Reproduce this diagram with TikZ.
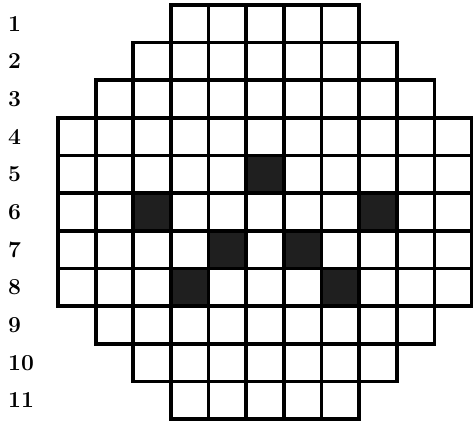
\documentclass[tikz,border=0pt]{standalone}
\usepackage{tikz}

\tikzset{
  cellgrid/.style={black, line width=2.8pt, line cap=rect},
  hole/.style={black!88},
  rowlabel/.style={font=\LARGE\bfseries, anchor=west, inner sep=0pt}
}

\begin{document}
\begin{tikzpicture}[x=1cm,y=1cm]
\useasboundingbox (-1.54,0.13) rectangle (11.02,-11.03);
% dark cells
\fill[hole] (5,-5) rectangle (6,-4);
\fill[hole] (2,-6) rectangle (3,-5);
\fill[hole] (8,-6) rectangle (9,-5);
\fill[hole] (4,-7) rectangle (5,-6);
\fill[hole] (6,-7) rectangle (7,-6);
\fill[hole] (3,-8) rectangle (4,-7);
\fill[hole] (7,-8) rectangle (8,-7);
% grid, row by row
\draw[cellgrid] (3,-1) grid[step=1] (8,0);
\draw[cellgrid] (2,-2) grid[step=1] (9,-1);
\draw[cellgrid] (1,-3) grid[step=1] (10,-2);
\draw[cellgrid] (0,-8) grid[step=1] (11,-3);
\draw[cellgrid] (1,-9) grid[step=1] (10,-8);
\draw[cellgrid] (2,-10) grid[step=1] (9,-9);
\draw[cellgrid] (3,-11) grid[step=1] (8,-10);
% row numbers
\node[rowlabel] (r1) at (-1.33,-0.5) {1};
\node[rowlabel] (r2) at (-1.33,-1.5) {2};
\node[rowlabel] (r3) at (-1.33,-2.5) {3};
\node[rowlabel] (r4) at (-1.33,-3.5) {4};
\node[rowlabel] (r5) at (-1.33,-4.5) {5};
\node[rowlabel] (r6) at (-1.33,-5.5) {6};
\node[rowlabel] (r7) at (-1.33,-6.5) {7};
\node[rowlabel] (r8) at (-1.33,-7.5) {8};
\node[rowlabel] (r9) at (-1.33,-8.5) {9};
\node[rowlabel] (r10) at (-1.33,-9.5) {10};
\node[rowlabel] (r11) at (-1.33,-10.5) {11};
\end{tikzpicture}
\end{document}
